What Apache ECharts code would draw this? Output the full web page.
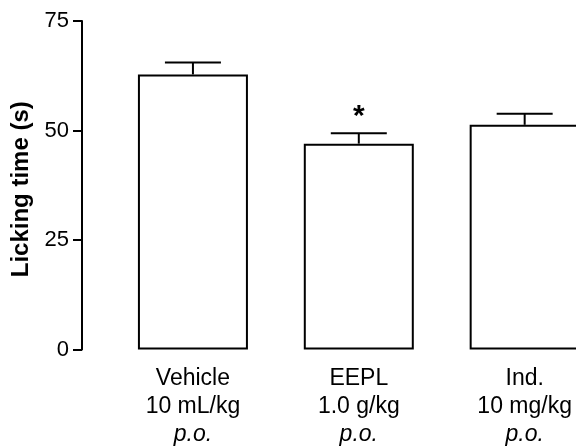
<!DOCTYPE html>
<html>
<head>
<meta charset="utf-8">
<script src="https://cdn.jsdelivr.net/npm/echarts@6/dist/echarts.min.js"></script>
<style>html,body{margin:0;padding:0;background:#fff;overflow:hidden;width:576px;height:446px}#c{width:640px;height:446px}</style>
</head>
<body>
<div id="c"></div>
<script>
// Data
var groupNames = ['Vehicle', 'EEPL', 'Ind.'];
var doses = ['10 mL/kg', '1.0 g/kg', '10 mg/kg'];
var routes = ['p.o.', 'p.o.', 'p.o.'];
var meanValues = [62.8, 47.0, 51.3];
var semValues = [2.7, 2.4, 2.5];
var significance = ['', '*', ''];
var yTicks = [0, 25, 50, 75];

var categories = groupNames.map(function (g, i) { return g + '|' + doses[i] + '|' + routes[i]; });
var errData = meanValues.map(function (v, i) { return [i, v, v + semValues[i], significance[i]]; });

var chart = echarts.init(document.getElementById('c'), null, {renderer: 'canvas'});
var FONT = '"Liberation Sans", Arial, Helvetica, sans-serif';
chart.setOption({
  animation: false,
  grid: {left: 110, right: 32.4, top: 21, bottom: 92.3, containLabel: false},
  xAxis: {
    type: 'category',
    data: categories,
    axisLine: {show: false},
    axisTick: {show: false},
    axisLabel: {
      margin: 15,
      interval: 0,
      formatter: function (v) {
        var p = v.split('|');
        return '{a|' + p[0] + '}\n{a|' + p[1] + '}\n{b|' + p[2] + '}';
      },
      rich: {
        a: {fontSize: 23, fontFamily: FONT, color: '#000', lineHeight: 28, align: 'center'},
        b: {fontSize: 23, fontFamily: FONT, color: '#000', lineHeight: 28, fontStyle: 'italic', align: 'center'}
      }
    }
  },
  yAxis: {
    type: 'value',
    min: 0, max: 75, interval: 25,
    offset: 28,
    name: 'Licking time (s)',
    nameLocation: 'middle',
    nameGap: 46,
    nameTextStyle: {fontSize: 24, fontWeight: 'bold', fontFamily: FONT, color: '#000', padding: [0, 8, 0, 0]},
    splitLine: {show: false},
    axisLine: {show: true, lineStyle: {color: '#000', width: 2}},
    axisTick: {show: true, length: 9, lineStyle: {color: '#000', width: 2}},
    axisLabel: {margin: 13, fontSize: 22, fontFamily: FONT, color: '#000',
      formatter: function (v) { return yTicks.indexOf(v) >= 0 ? String(v) : ''; }}
  },
  series: [
    {
      type: 'bar',
      data: meanValues,
      barWidth: 110,
      itemStyle: {color: '#fff', borderColor: '#000', borderWidth: 2},
      silent: true
    },
    {
      type: 'custom',
      data: errData,
      silent: true,
      renderItem: function (params, api) {
        var base = api.coord([api.value(0), api.value(1)]);
        var top = api.coord([api.value(0), api.value(2)]);
        var half = 28;
        var children = [
          {type: 'line', shape: {x1: base[0], y1: base[1], x2: top[0], y2: top[1]}, style: {stroke: '#000', lineWidth: 2}},
          {type: 'line', shape: {x1: top[0] - half, y1: top[1], x2: top[0] + half, y2: top[1]}, style: {stroke: '#000', lineWidth: 2}}
        ];
        var sig = api.value(3);
        if (sig) {
          children.push({type: 'text', x: top[0], y: top[1] - 1,
            style: {text: sig, fontSize: 30, fontWeight: 'bold', fontFamily: FONT, fill: '#000', align: 'center', verticalAlign: 'bottom'}});
        }
        return {type: 'group', children: children};
      }
    }
  ]
});
</script>
</body>
</html>
